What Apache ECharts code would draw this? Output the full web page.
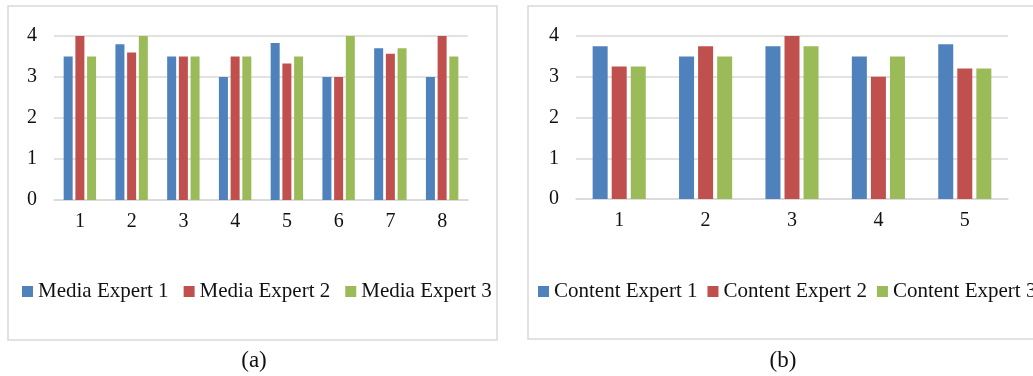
<!DOCTYPE html>
<html>
<head>
<meta charset="utf-8">
<script src="https://cdn.jsdelivr.net/npm/echarts@6/dist/echarts.min.js"></script>
<style>
  html, body { margin: 0; padding: 0; background: #fff; overflow: hidden; }
  #chart { width: 1033px; height: 376px; }
</style>
</head>
<body>
<div id="chart"></div>
<script>
// (a) media experts
const mediaCategories = ['1', '2', '3', '4', '5', '6', '7', '8']
const mediaExpert1 = [3.5, 3.8, 3.5, 3.0, 3.83, 3.0, 3.7, 3.0]
const mediaExpert2 = [4.0, 3.6, 3.5, 3.5, 3.33, 3.0, 3.57, 4.0]
const mediaExpert3 = [3.5, 4.0, 3.5, 3.5, 3.5, 4.0, 3.7, 3.5]

// (b) content experts
const contentCategories = ['1', '2', '3', '4', '5']
const contentExpert1 = [3.75, 3.5, 3.75, 3.5, 3.8]
const contentExpert2 = [3.25, 3.75, 4.0, 3.0, 3.2]
const contentExpert3 = [3.25, 3.5, 3.75, 3.5, 3.2]

const yTicks = [0, 1, 2, 3, 4]
const captions = ['(a)', '(b)']

const colors = ['#4F81BD', '#C0504D', '#9BBB59']
const font = '"Liberation Serif", "Times New Roman", serif'
const gridColor = '#D9D9D9'
const textColor = '#111'

const chart = echarts.init(document.getElementById('chart'))

function xAxis(gridIndex, data) {
  return {
    type: 'category',
    gridIndex,
    data,
    axisTick: { show: false },
    axisLine: { lineStyle: { color: gridColor, width: 1.5 } },
    axisLabel: { color: textColor, fontFamily: font, fontSize: 20, margin: 12 },
  }
}

function yAxis(gridIndex) {
  return {
    type: 'value',
    gridIndex,
    min: yTicks[0],
    max: yTicks[yTicks.length - 1],
    interval: 1,
    axisLine: { show: false },
    axisTick: { show: false },
    axisLabel: { color: textColor, fontFamily: font, fontSize: 20, margin: 17 },
    splitLine: { lineStyle: { color: gridColor, width: 1.5 } },
  }
}

function bar(name, data, idx, axisIndex, width, gap) {
  return {
    name,
    type: 'bar',
    xAxisIndex: axisIndex,
    yAxisIndex: axisIndex,
    data,
    barWidth: width,
    barGap: gap,
    itemStyle: { color: colors[idx] },
  }
}

const legendText = { color: textColor, fontFamily: font, fontSize: 21 }

const option = {
  animation: false,
  grid: [
    { left: 54, top: 36, width: 414, height: 164 },
    { left: 576, top: 36, width: 432, height: 163 },
  ],
  xAxis: [xAxis(0, mediaCategories), xAxis(1, contentCategories)],
  yAxis: [yAxis(0), yAxis(1)],
  legend: [
    {
      data: ['Media Expert 1', 'Media Expert 2', 'Media Expert 3'],
      left: 22, top: 281, width: 600, padding: 0,
      icon: 'rect', itemWidth: 11, itemHeight: 11, itemGap: 15,
      textStyle: legendText,
    },
    {
      data: ['Content Expert 1', 'Content Expert 2', 'Content Expert 3'],
      left: 538, top: 281, width: 700, padding: 0,
      icon: 'rect', itemWidth: 11, itemHeight: 11, itemGap: 10,
      textStyle: legendText,
    },
  ],
  graphic: [
    { type: 'rect', shape: { x: 8, y: 6, width: 489, height: 334 }, style: { fill: 'none', stroke: gridColor, lineWidth: 1.5 }, z: -1 },
    { type: 'rect', shape: { x: 528, y: 6, width: 540, height: 333 }, style: { fill: 'none', stroke: gridColor, lineWidth: 1.5 }, z: -1 },
    { type: 'text', x: 254, y: 361, style: { text: captions[0], fill: textColor, font: '23px ' + font, align: 'center', verticalAlign: 'middle' } },
    { type: 'text', x: 783, y: 361, style: { text: captions[1], fill: textColor, font: '23px ' + font, align: 'center', verticalAlign: 'middle' } },
  ],
  series: [
    bar('Media Expert 1', mediaExpert1, 0, 0, 9, '30%'),
    bar('Media Expert 2', mediaExpert2, 1, 0, 9, '30%'),
    bar('Media Expert 3', mediaExpert3, 2, 0, 9, '30%'),
    bar('Content Expert 1', contentExpert1, 0, 1, 15, '27%'),
    bar('Content Expert 2', contentExpert2, 1, 1, 15, '27%'),
    bar('Content Expert 3', contentExpert3, 2, 1, 15, '27%'),
  ],
}

chart.setOption(option)
</script>
</body>
</html>
